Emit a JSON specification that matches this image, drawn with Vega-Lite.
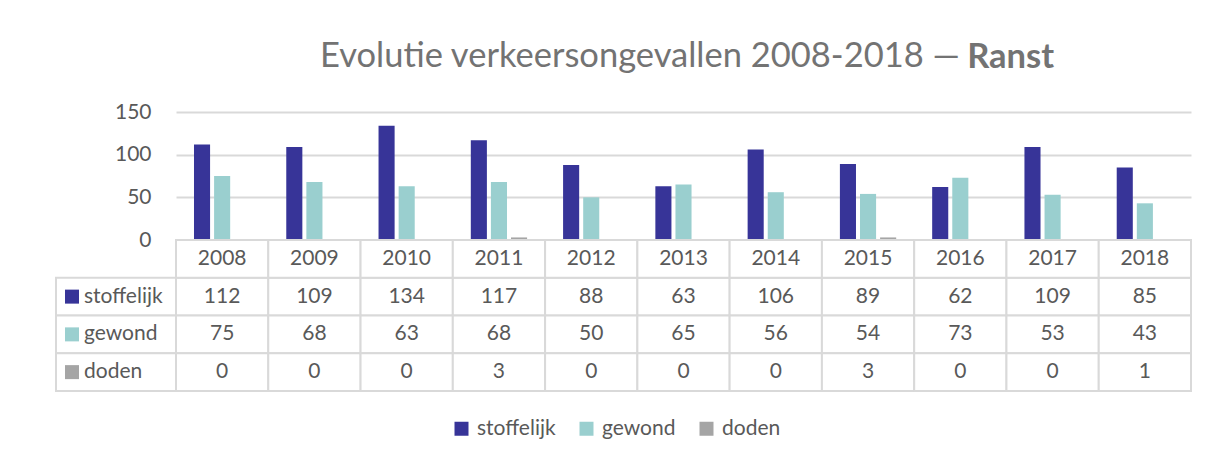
{
  "$schema": "https://vega.github.io/schema/vega-lite/v6.json",
  "background": "white",
  "padding": {"left": 55, "top": 38, "right": 18, "bottom": 10},
  "config": {"font": "Lato", "view": {"stroke": null}, "concat": {"spacing": 0}},
  "datasets": {
    "acc": [
      {"year": 2008, "series": "stoffelijk", "value": 112},
      {"year": 2009, "series": "stoffelijk", "value": 109},
      {"year": 2010, "series": "stoffelijk", "value": 134},
      {"year": 2011, "series": "stoffelijk", "value": 117},
      {"year": 2012, "series": "stoffelijk", "value": 88},
      {"year": 2013, "series": "stoffelijk", "value": 63},
      {"year": 2014, "series": "stoffelijk", "value": 106},
      {"year": 2015, "series": "stoffelijk", "value": 89},
      {"year": 2016, "series": "stoffelijk", "value": 62},
      {"year": 2017, "series": "stoffelijk", "value": 109},
      {"year": 2018, "series": "stoffelijk", "value": 85},
      {"year": 2008, "series": "gewond", "value": 75},
      {"year": 2009, "series": "gewond", "value": 68},
      {"year": 2010, "series": "gewond", "value": 63},
      {"year": 2011, "series": "gewond", "value": 68},
      {"year": 2012, "series": "gewond", "value": 50},
      {"year": 2013, "series": "gewond", "value": 65},
      {"year": 2014, "series": "gewond", "value": 56},
      {"year": 2015, "series": "gewond", "value": 54},
      {"year": 2016, "series": "gewond", "value": 73},
      {"year": 2017, "series": "gewond", "value": 53},
      {"year": 2018, "series": "gewond", "value": 43},
      {"year": 2008, "series": "doden", "value": 0},
      {"year": 2009, "series": "doden", "value": 0},
      {"year": 2010, "series": "doden", "value": 0},
      {"year": 2011, "series": "doden", "value": 3},
      {"year": 2012, "series": "doden", "value": 0},
      {"year": 2013, "series": "doden", "value": 0},
      {"year": 2014, "series": "doden", "value": 0},
      {"year": 2015, "series": "doden", "value": 3},
      {"year": 2016, "series": "doden", "value": 0},
      {"year": 2017, "series": "doden", "value": 0},
      {"year": 2018, "series": "doden", "value": 1}
    ]
  },
  "data": {"name": "acc"},
  "columns": 2,
  "spacing": 0,
  "bounds": "flush",
  "resolve": {"scale": {"x": "independent", "y": "independent", "color": "shared"}},
  "concat": [
    {
      "width": 120, "height": 128,
      "title": {"text": "Evolutie verkeersongevallen 2008-2018 —", "fontSize": 34.5, "fontWeight": "normal", "color": "#737373", "anchor": "start", "frame": "group", "dx": 264, "offset": 38},
      "data": {"values": []},
      "mark": {"type": "point", "opacity": 0},
      "encoding": {}
    },
    {
      "width": 1015, "height": 128,
      "title": {"text": "Ranst", "fontSize": 34.5, "fontWeight": "bold", "color": "#737373", "anchor": "end", "frame": "group", "dx": -137, "offset": 26},
      "mark": {"type": "bar"},
      "encoding": {
        "x": {"field": "year", "type": "ordinal", "scale": {"paddingInner": 0.39, "paddingOuter": 0.195}, "axis": null},
        "xOffset": {"field": "series", "type": "nominal", "sort": ["stoffelijk", "gewond", "doden"], "scale": {"paddingInner": 0.2, "paddingOuter": 0}},
        "y": {"field": "value", "type": "quantitative", "scale": {"domain": [0, 150], "nice": false},
              "axis": {"values": [0, 50, 100, 150], "title": null, "domain": false, "ticks": false, "labelFontSize": 21, "labelColor": "#595959", "labelPadding": 25, "gridColor": "#d9d9d9", "gridWidth": 2}},
        "color": {"field": "series", "type": "nominal",
                  "scale": {"domain": ["stoffelijk", "gewond", "doden"], "range": ["#373498", "#9ACFCF", "#A5A5A5"]},
                  "legend": {"orient": "none", "legendX": 395, "legendY": 306, "direction": "horizontal", "title": null, "symbolType": "square", "symbolSize": 196, "symbolStrokeWidth": 0, "labelFontSize": 21, "labelColor": "#595959", "columnPadding": 20, "labelOffset": 5}}
      }
    },
    {
      "width": 120, "height": 151,
      "transform": [{"filter": "datum.year == 2008"}],
      "encoding": {
        "y": {"field": "series", "type": "nominal", "scale": {"domain": ["__hdr", "stoffelijk", "gewond", "doden"], "paddingInner": 0, "paddingOuter": 0}, "axis": null}
      },
      "layer": [
        {"mark": {"type": "rect", "fill": "white", "stroke": "#d9d9d9", "strokeWidth": 2}},
        {"mark": {"type": "square", "size": 196, "opacity": 1, "xOffset": -44},
         "encoding": {"color": {"field": "series", "type": "nominal",
                  "legend": {"orient": "none", "legendX": 395, "legendY": 306, "direction": "horizontal", "title": null, "symbolType": "square", "symbolSize": 196, "symbolStrokeWidth": 0, "labelFontSize": 21, "labelColor": "#595959", "columnPadding": 20, "labelOffset": 5}}}},
        {"mark": {"type": "text", "align": "left", "dx": -32, "fontSize": 21, "color": "#595959"},
         "encoding": {"text": {"field": "series", "type": "nominal"}}}
      ]
    },
    {
      "width": 1015, "height": 151,
      "encoding": {
        "x": {"field": "year", "type": "ordinal", "scale": {"paddingInner": 0, "paddingOuter": 0}, "axis": null}
      },
      "layer": [
        {"mark": {"type": "rect", "fill": "white", "stroke": "#d9d9d9", "strokeWidth": 2},
         "encoding": {"y": {"field": "series", "type": "nominal", "scale": {"domain": ["__hdr", "stoffelijk", "gewond", "doden"], "paddingInner": 0, "paddingOuter": 0}, "axis": null}}},
        {"transform": [{"filter": "datum.series == 'stoffelijk'"}],
         "mark": {"type": "rect", "fill": "white", "stroke": "#d9d9d9", "strokeWidth": 2},
         "encoding": {"y": {"datum": "__hdr", "type": "nominal"}}},
        {"mark": {"type": "text", "fontSize": 21, "color": "#595959"},
         "encoding": {"y": {"field": "series", "type": "nominal"}, "text": {"field": "value", "type": "quantitative"}}},
        {"transform": [{"filter": "datum.series == 'stoffelijk'"}],
         "mark": {"type": "text", "fontSize": 21, "color": "#595959"},
         "encoding": {"y": {"datum": "__hdr", "type": "nominal"}, "text": {"field": "year", "type": "ordinal"}}}
      ]
    }
  ]
}
